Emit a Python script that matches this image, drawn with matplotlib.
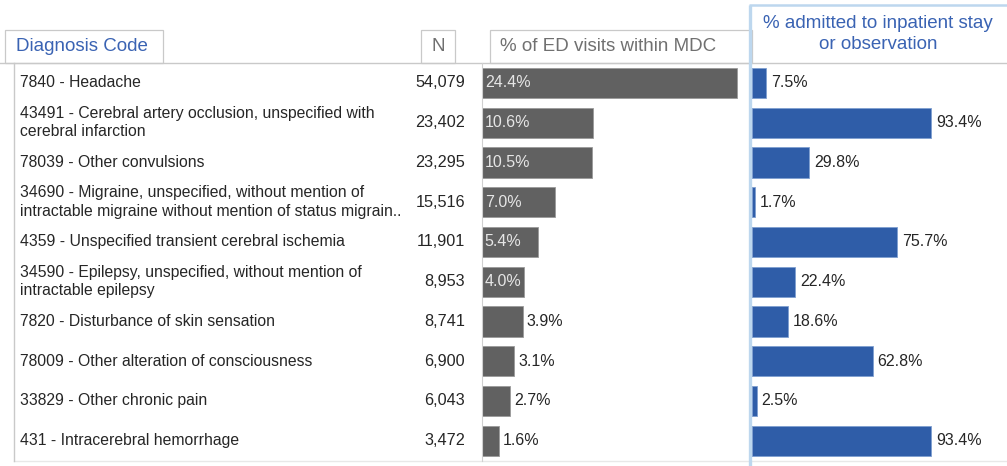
import matplotlib.pyplot as plt
from matplotlib.patches import Rectangle

plt.rcParams['font.family'] = ['Liberation Sans', 'DejaVu Sans']

diagnoses = [
    "7840 - Headache",
    "43491 - Cerebral artery occlusion, unspecified with\ncerebral infarction",
    "78039 - Other convulsions",
    "34690 - Migraine, unspecified, without mention of\nintractable migraine without mention of status migrain..",
    "4359 - Unspecified transient cerebral ischemia",
    "34590 - Epilepsy, unspecified, without mention of\nintractable epilepsy",
    "7820 - Disturbance of skin sensation",
    "78009 - Other alteration of consciousness",
    "33829 - Other chronic pain",
    "431 - Intracerebral hemorrhage",
]
visits_n = [54079, 23402, 23295, 15516, 11901, 8953, 8741, 6900, 6043, 3472]
pct_visits = [24.4, 10.6, 10.5, 7.0, 5.4, 4.0, 3.9, 3.1, 2.7, 1.6]
pct_admitted = [7.5, 93.4, 29.8, 1.7, 75.7, 22.4, 18.6, 62.8, 2.5, 93.4]

W, H = 1007, 466
GREY_BAR = '#616161'
BLUE_BAR = '#2f5da8'
HEAD_BLUE = '#3a63b3'
HEAD_GREY = '#707070'
LINE = '#c9c9c9'
FRAME_BLUE = '#bdd7ee'
TXT = '#262626'

row_top, row_bot = 63.0, 460.6
n_rows = len(diagnoses)
row_h = (row_bot - row_top) / n_rows


def fig_rect(x0, x1):
    return [x0 / W, (H - row_bot) / H, (x1 - x0) / W, (row_bot - row_top) / H]


fig = plt.figure(figsize=(W / 100, H / 100), dpi=100)

# background layer in pixel units for the table frame and header tabs
bg = fig.add_axes([0, 0, 1, 1])
bg.set_xlim(0, W)
bg.set_ylim(H, 0)
bg.axis('off')

bg.plot([0, W], [row_top, row_top], color=LINE, lw=1)
bg.plot([14, W], [row_bot + 0.5, row_bot + 0.5], color='#e8e8e8', lw=1)
bg.plot([14, 14], [row_top, row_bot], color=LINE, lw=1)

tabs = [(5, 163, "Diagnosis Code", HEAD_BLUE, 'left', 16),
        (421, 455, "N", HEAD_GREY, 'center', 438),
        (490, 752, "% of ED visits within MDC", HEAD_GREY, 'left', 500)]
for x0, x1, label, col, ha, tx in tabs:
    bg.add_patch(Rectangle((x0, 30), x1 - x0, row_top - 30, facecolor='white',
                           edgecolor=LINE, lw=0.9))
    bg.text(tx, 46.5, label, color=col, fontsize=13.5, ha=ha, va='center')

bg.text(878, 34, "% admitted to inpatient stay\nor observation", color=HEAD_BLUE,
        fontsize=13.5, ha='center', va='center', linespacing=1.38)
bg.plot([749.5, 749.5], [5, H], color=FRAME_BLUE, lw=2.4, solid_capstyle='butt')
bg.plot([749, W], [5, 5], color=FRAME_BLUE, lw=1.8, solid_capstyle='butt')

for i, (name, n) in enumerate(zip(diagnoses, visits_n)):
    yc = row_top + (i + 0.5) * row_h
    bg.text(20, yc, name, color=TXT, fontsize=11.3, ha='left', va='center',
            linespacing=1.3)
    bg.text(465, yc, f"{n:,}", color=TXT, fontsize=11.7, ha='right', va='center')

# share of ED visits
ax1 = fig.add_axes(fig_rect(482, 748))
ax1.barh(range(n_rows), pct_visits, height=0.76, color=GREY_BAR,
         edgecolor='#9a9a9a', lw=0.6)
ax1.set_xlim(0, 266 / 10.45)
ax1.set_ylim(n_rows - 0.5, -0.5)
for i, v in enumerate(pct_visits):
    if v >= 4.0:
        ax1.annotate(f"{v:.1f}%", (0, i), xytext=(2, 0), textcoords='offset points',
                     color='#e6e6e6', fontsize=11.5, ha='left', va='center')
    else:
        ax1.annotate(f"{v:.1f}%", (v, i), xytext=(3, 0), textcoords='offset points',
                     color=TXT, fontsize=11.5, ha='left', va='center')

# share admitted
ax2 = fig.add_axes(fig_rect(752, W))
ax2.barh(range(n_rows), pct_admitted, height=0.76, color=BLUE_BAR,
         edgecolor='#7f9fd0', lw=0.6)
ax2.set_xlim(0, 255 / 1.92)
ax2.set_ylim(n_rows - 0.5, -0.5)
for i, v in enumerate(pct_admitted):
    ax2.annotate(f"{v:.1f}%", (v, i), xytext=(3.5, 0), textcoords='offset points',
                 color=TXT, fontsize=11.5, ha='left', va='center')

for ax in (ax1, ax2):
    ax.set_xticks([])
    ax.set_yticks([])
    for s in ax.spines.values():
        s.set_visible(False)
    ax.patch.set_alpha(0)
ax1.spines['left'].set_visible(True)
ax1.spines['left'].set_color('#d0d0d0')

fig.savefig('out.png', dpi=100)
